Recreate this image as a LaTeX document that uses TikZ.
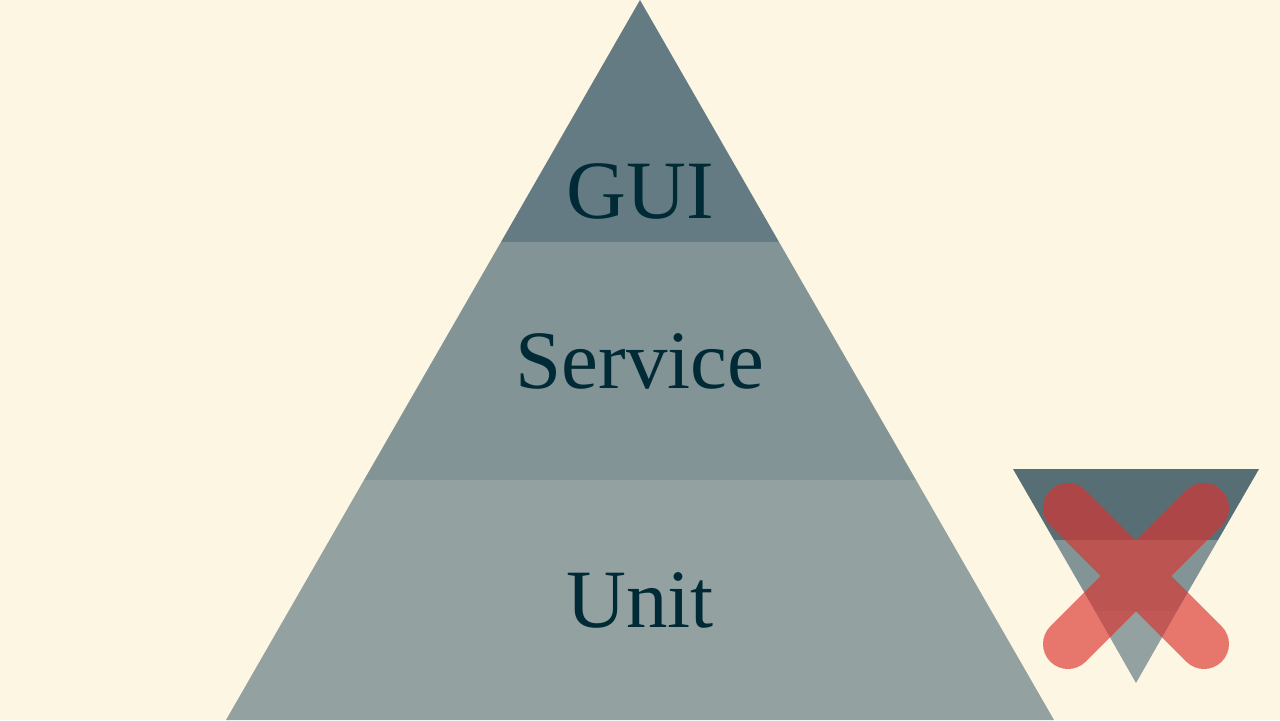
\documentclass[tikz,border=0pt]{standalone}
\usepackage{fontspec}
\setmainfont{Liberation Serif}
\definecolor{base3}{HTML}{FDF6E3}
\definecolor{base03}{HTML}{002B36}
\definecolor{base01}{HTML}{586E75}
\definecolor{base00}{HTML}{657B83}
\definecolor{base0}{HTML}{839496}
\definecolor{base1}{HTML}{93A1A1}
\definecolor{solred}{HTML}{DC322F}
\begin{document}
\begin{tikzpicture}[
            x=0.1mm, y=-0.1mm,
            layer label/.style={anchor=base,text=base03,font=\fontsize{23.6}{28}\selectfont},
            cross/.style={draw=solred,line width=5mm,line cap=round,opacity=0.65},
        ]
            \fill[base3] (0,0) rectangle (1280,720);
            \useasboundingbox (0,0) rectangle (1280,720);

            % pyramid
            \fill[base00] (640,0) -- (779,242) -- (501,242) -- cycle;
            \fill[base0] (501,242) -- (779,242) -- (916,480) -- (364,480) -- cycle;
            \fill[base1] (364,480) -- (916,480) -- (1054,720) -- (226,720) -- cycle;

            \node[layer label] (gui) at (640,218) {GUI};
            \node[layer label] (service) at (640,388) {Service};
            \node[layer label] (unit) at (640,627) {Unit};

            % upside down
            \fill[base01] (1013,469) -- (1259,469) -- (1218,540) -- (1054,540) -- cycle;
            \fill[base0] (1054,540) -- (1218,540) -- (1177,611) -- (1095,611) -- cycle;
            \fill[base1] (1095,611) -- (1177,611) -- (1136,683) -- cycle;
            \draw[cross] (1068,508) -- (1204,644) (1204,508) -- (1068,644);
        \end{tikzpicture}
\end{document}
